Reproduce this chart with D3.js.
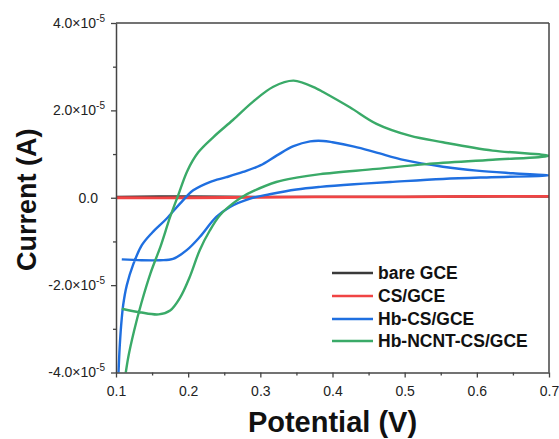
<!DOCTYPE html>
<html><head><meta charset="utf-8">
<script src="https://cdn.jsdelivr.net/npm/d3@7"></script>
<style>
html,body{margin:0;padding:0;background:#fff;}
svg{display:block;font-family:"Liberation Sans",Arial,sans-serif;}
</style></head>
<body><svg id="chart" width="559" height="439"></svg>
<script>
// Currents are in units of 1e-5 A, potentials in V
const seriesNames = ["bare GCE", "CS/GCE", "Hb-CS/GCE", "Hb-NCNT-CS/GCE"];
const seriesColors = ["#3a3a3a", "#f04444", "#1f6fe0", "#3aaa68"];

const bareV = [0.10, 0.20, 0.30, 0.40, 0.50, 0.60, 0.70];
const bareI = [0.02, 0.03, 0.02, 0.02, 0.02, 0.03, 0.03];

const csV = [0.10, 0.20, 0.30, 0.40, 0.50, 0.60, 0.70];
const csI = [0.00, 0.00, 0.01, 0.02, 0.02, 0.03, 0.03];

const hbCsV = [0.108, 0.135, 0.161, 0.179, 0.198, 0.216, 0.239, 0.258, 0.286, 0.313, 0.35, 0.383, 0.43, 0.48, 0.553, 0.62, 0.70,
               0.65, 0.60, 0.553, 0.50, 0.46, 0.43, 0.40, 0.387, 0.369, 0.346, 0.323, 0.30, 0.276, 0.253, 0.23, 0.207, 0.189, 0.17, 0.15, 0.136, 0.124, 0.115, 0.110, 0.107, 0.105, 0.1035, 0.1025];
const hbCsI = [-1.41, -1.43, -1.43, -1.40, -1.20, -0.90, -0.44, -0.21, -0.02, 0.08, 0.19, 0.25, 0.31, 0.36, 0.43, 0.47, 0.51,
               0.56, 0.62, 0.71, 0.86, 1.04, 1.17, 1.27, 1.30, 1.29, 1.18, 0.97, 0.74, 0.59, 0.47, 0.36, 0.17, -0.13, -0.48, -0.80, -1.08, -1.52, -2.00, -2.45, -2.95, -3.45, -4.0, -4.4];

const hbNcntV = [0.108, 0.133, 0.159, 0.175, 0.189, 0.202, 0.216, 0.23, 0.244, 0.262, 0.276, 0.29, 0.322, 0.35, 0.383, 0.461, 0.53, 0.622, 0.70,
                 0.622, 0.553, 0.507, 0.461, 0.424, 0.387, 0.378, 0.346, 0.318, 0.29, 0.262, 0.235, 0.214, 0.199, 0.186, 0.175, 0.162, 0.148, 0.135, 0.125, 0.117, 0.111];
const hbNcntI = [-2.54, -2.62, -2.67, -2.58, -2.28, -1.82, -1.20, -0.75, -0.40, -0.13, 0.03, 0.15, 0.36, 0.46, 0.54, 0.66, 0.77, 0.87, 0.96,
                 1.08, 1.27, 1.42, 1.69, 2.07, 2.42, 2.50, 2.68, 2.54, 2.20, 1.78, 1.39, 1.04, 0.62, 0.05, -0.44, -1.10, -1.72, -2.42, -3.05, -3.65, -4.3];

const xTicks = [0.1, 0.2, 0.3, 0.4, 0.5, 0.6, 0.7];
const xTickLabels = ["0.1", "0.2", "0.3", "0.4", "0.5", "0.6", "0.7"];
const xMinorTicks = [0.15, 0.25, 0.35, 0.45, 0.55, 0.65];
const yTicks = [-4, -2, 0, 2, 4];
const yTickMantissa = ["-4.0\u00D710", "-2.0\u00D710", "0.0", "2.0\u00D710", "4.0\u00D710"];
const yTickExp = ["-5", "-5", "", "-5", "-5"];
const yMinorTicks = [-3, -1, 1, 3];

const xTitle = "Potential (V)";
const yTitle = "Current (A)";

const svg = d3.select("#chart");
const L = 116, R = 549, T = 23, B = 372.5;
const x = d3.scaleLinear().domain([0.1, 0.7]).range([L, R]);
const y = d3.scaleLinear().domain([-4, 4]).range([B, T]);

svg.append("defs").append("clipPath").attr("id", "clip")
  .append("rect").attr("x", L).attr("y", T).attr("width", R - L).attr("height", B - T);

const line = d3.line().x(d => x(d[0])).y(d => y(d[1])).curve(d3.curveCatmullRom.alpha(0.5));
const allSeries = [
  d3.zip(bareV, bareI),
  d3.zip(csV, csI),
  d3.zip(hbCsV, hbCsI),
  d3.zip(hbNcntV, hbNcntI)
];
const g = svg.append("g").attr("clip-path", "url(#clip)");
allSeries.forEach((pts, i) => {
  g.append("path").datum(pts).attr("d", line)
    .attr("fill", "none").attr("stroke", seriesColors[i])
    .attr("stroke-width", i === 1 ? 2.8 : 2.4).attr("stroke-linejoin", "round");
});

// frame
const axisColor = "#444";
svg.append("line").attr("x1", L).attr("x2", R).attr("y1", T).attr("y2", T).attr("stroke", axisColor).attr("stroke-width", 1.5);
svg.append("line").attr("x1", R).attr("x2", R).attr("y1", T).attr("y2", B).attr("stroke", axisColor).attr("stroke-width", 1.5);

// bottom axis
const xAxis = svg.append("g").attr("transform", `translate(0,${B})`)
  .call(d3.axisBottom(x).tickValues(xTicks).tickFormat((d, i) => xTickLabels[i]).tickSizeInner(5).tickSizeOuter(0));
svg.append("g").attr("transform", `translate(0,${B})`)
  .call(d3.axisBottom(x).tickValues(xMinorTicks).tickFormat("").tickSizeInner(3).tickSizeOuter(0))
  .select(".domain").remove();

// left axis
const yAxis = svg.append("g").attr("transform", `translate(${L},0)`)
  .call(d3.axisLeft(y).tickValues(yTicks).tickFormat("").tickSizeInner(5).tickSizeOuter(0));
svg.append("g").attr("transform", `translate(${L},0)`)
  .call(d3.axisLeft(y).tickValues(yMinorTicks).tickFormat("").tickSizeInner(3).tickSizeOuter(0))
  .select(".domain").remove();

svg.selectAll(".domain").attr("stroke", axisColor).attr("stroke-width", 1.5);
svg.selectAll(".tick line").attr("stroke", axisColor).attr("stroke-width", 1.3);
xAxis.selectAll(".tick text").attr("font-size", 14).attr("fill", "#222")
  .attr("font-family", "Liberation Sans, Arial, sans-serif").attr("y", 10).attr("dy", "0.95em");

yTicks.forEach((v, i) => {
  const t = svg.append("text").attr("y", y(v)).attr("dy", "0.35em")
    .attr("font-size", 14).attr("fill", "#222").attr("text-anchor", "end");
  if (yTickExp[i]) {
    t.attr("x", 105);
    t.append("tspan").text(yTickMantissa[i]);
    t.append("tspan").attr("font-size", 10).attr("dy", "-0.6em").text(yTickExp[i]);
  } else {
    t.attr("x", 98).text(yTickMantissa[i]);
  }
});

// titles
svg.append("text").attr("x", (L + R) / 2).attr("y", 432).attr("text-anchor", "middle")
  .attr("font-size", 29).attr("font-weight", "bold").attr("fill", "#111").text(xTitle);
svg.append("text").attr("transform", `translate(36,${(T + B) / 2 + 2}) rotate(-90)`).attr("text-anchor", "middle")
  .attr("font-size", 27).attr("font-weight", "bold").attr("fill", "#111").text(yTitle);

// legend
const legRows = [273, 296, 319, 341];
seriesNames.forEach((n, i) => {
  svg.append("line").attr("x1", 332).attr("x2", 373).attr("y1", legRows[i]).attr("y2", legRows[i])
    .attr("stroke", seriesColors[i]).attr("stroke-width", 2.6);
  svg.append("text").attr("x", 378).attr("y", legRows[i]).attr("dy", "0.36em")
    .attr("font-size", 17.5).attr("font-weight", "bold").attr("fill", "#111").text(n);
});
</script></body></html>
